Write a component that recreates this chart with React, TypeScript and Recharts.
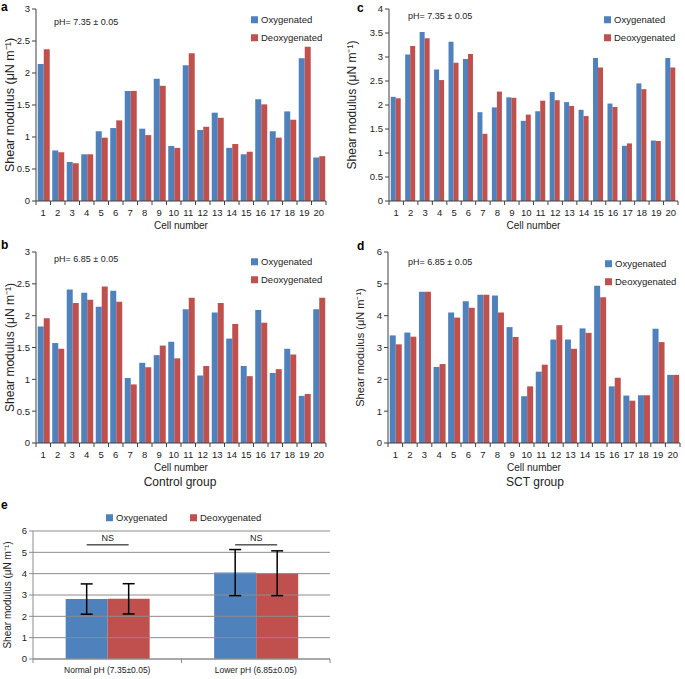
import React from 'react';
import { BarChart, Bar, XAxis, YAxis, ReferenceLine, ErrorBar, LabelList } from 'recharts';

const OXY = '#4F81BD';
const DEOXY = '#C0504D';
const FONT = '"Liberation Sans", Arial, sans-serif';
const TXT = '#222';
const AXIS = '#404040';
const GRID = '#8c8c8c';
const Y_LABEL = 'Shear modulus (μN m⁻¹)';

const cellNumbers = ['1', '2', '3', '4', '5', '6', '7', '8', '9', '10', '11', '12', '13', '14', '15', '16', '17', '18', '19', '20'];

// a - control group, pH 7.35
const controlNormalOxy = [2.14, 0.79, 0.61, 0.73, 1.09, 1.14, 1.72, 1.13, 1.91, 0.86, 2.12, 1.11, 1.38, 0.83, 0.73, 1.59, 1.09, 1.4, 2.23, 0.68];
const controlNormalDeoxy = [2.37, 0.76, 0.59, 0.73, 0.99, 1.26, 1.72, 1.03, 1.8, 0.83, 2.31, 1.16, 1.3, 0.89, 0.77, 1.51, 0.99, 1.27, 2.41, 0.7];
// b - control group, pH 6.85
const controlLowOxy = [1.83, 1.57, 2.41, 2.36, 2.14, 2.39, 1.02, 1.26, 1.38, 1.59, 2.1, 1.06, 2.05, 1.64, 1.21, 2.09, 1.1, 1.48, 0.74, 2.1];
const controlLowDeoxy = [1.96, 1.48, 2.2, 2.25, 2.46, 2.22, 0.92, 1.19, 1.53, 1.33, 2.28, 1.21, 2.2, 1.87, 1.05, 1.89, 1.16, 1.39, 0.77, 2.28];
// c - SCT group, pH 7.35
const sctNormalOxy = [2.17, 3.05, 3.52, 2.74, 3.32, 2.96, 1.85, 1.95, 2.16, 1.67, 1.87, 2.27, 2.06, 1.9, 2.98, 2.03, 1.15, 2.45, 1.26, 2.98];
const sctNormalDeoxy = [2.14, 3.23, 3.39, 2.52, 2.88, 3.06, 1.4, 2.28, 2.15, 1.8, 2.09, 2.1, 1.98, 1.77, 2.78, 1.96, 1.2, 2.33, 1.25, 2.78];
// d - SCT group, pH 6.85
const sctLowOxy = [3.38, 3.47, 4.75, 2.39, 4.1, 4.45, 4.66, 4.63, 3.64, 1.47, 2.24, 3.25, 3.25, 3.6, 4.94, 1.78, 1.49, 1.5, 3.59, 2.14];
const sctLowDeoxy = [3.1, 3.34, 4.75, 2.48, 3.94, 4.25, 4.66, 4.1, 3.33, 1.78, 2.46, 3.7, 2.96, 3.46, 4.58, 2.05, 1.33, 1.5, 3.17, 2.14];

// e - means
const phGroups = ['Normal pH (7.35±0.05)', 'Lower pH (6.85±0.05)'];
const meanOxy = [2.81, 4.05];
const meanDeoxy = [2.82, 4.02];
const sdOxy = [0.71, 1.08];
const sdDeoxy = [0.71, 1.05];
const nsLevel = [5.35, 5.35];

const ticks3 = [0, 0.5, 1, 1.5, 2, 2.5, 3];
const ticks4 = [0, 0.5, 1, 1.5, 2, 2.5, 3, 3.5, 4];
const ticks6 = [0, 1, 2, 3, 4, 5, 6];

// category tick: marks sit on category edges like excel
function EdgeTick(props: any) {
  const { x, y, payload, width, visibleTicksCount, index, gap, color, size, count } = props;
  const n = count || visibleTicksCount || 1;
  const half = payload && payload.offset ? payload.offset : width / n / 2;
  const axisY = y - gap;
  return (
    <g>
      <line x1={x - half} x2={x - half} y1={axisY} y2={axisY + 4} stroke={color} />
      {index === n - 1 && <line x1={x + half} x2={x + half} y1={axisY} y2={axisY + 4} stroke={color} />}
      <text x={x} y={y} dy="0.71em" textAnchor="middle" fontSize={size} fill={TXT}>{payload.value}</text>
    </g>
  );
}

function Note({ x, y, children, size = 9, center = false, bold = false }: any) {
  return (
    <div style={{
      position: 'absolute', left: x, top: y, fontSize: size, lineHeight: 1, whiteSpace: 'nowrap',
      fontWeight: bold ? 'bold' : 'normal', color: bold ? '#000' : TXT,
      transform: center ? 'translate(-50%, -50%)' : 'translateY(-50%)',
    }}>{children}</div>
  );
}

function Swatch({ x, y, color, label }: any) {
  return (
    <div style={{ position: 'absolute', left: x, top: y, transform: 'translateY(-50%)', display: 'flex', alignItems: 'center', fontSize: 9.5, color: TXT, whiteSpace: 'nowrap', lineHeight: 1 }}>
      <span style={{ width: 7, height: 7, background: color, marginRight: 3, display: 'inline-block' }} />
      {label}
    </div>
  );
}

function CellPanel(p: any) {
  const data = cellNumbers.map((c, i) => ({ cell: c, oxy: p.oxy[i], deoxy: p.deoxy[i] }));
  return (
    <div style={{ position: 'absolute', left: p.left, top: p.top }}>
      <BarChart width={p.width} height={p.height} data={data} barCategoryGap="12%" barGap={0}
        margin={{ top: p.mTop, right: p.mRight, left: 0, bottom: 0 }}>
        <XAxis dataKey="cell" interval={0} height={29} stroke={AXIS} tickLine={false} tickSize={0} tickMargin={8}
          tick={<EdgeTick gap={8} color={AXIS} size={9.5} count={cellNumbers.length} />}
          label={{ value: 'Cell number', position: 'insideBottom', offset: 1, fontSize: 10, fill: TXT }} />
        <YAxis domain={[0, p.yMax]} ticks={p.yTicks} width={p.axisW} stroke={AXIS} tickSize={4} tickMargin={2}
          tick={{ fontSize: 9.5, fill: TXT }}
          label={{ value: Y_LABEL, angle: -90, position: 'insideLeft', offset: p.labelX, fontSize: p.labelSize, fill: TXT, style: { textAnchor: 'middle' } }} />
        <Bar dataKey="oxy" fill={OXY} isAnimationActive={false} />
        <Bar dataKey="deoxy" fill={DEOXY} isAnimationActive={false} />
      </BarChart>
    </div>
  );
}

function NsMark(props: any) {
  const vb = props.viewBox || props;
  const i = props.index;
  if (vb == null || i == null) return null;
  const perUnit = vb.height / meanDeoxy[i];
  const bottom = vb.y + vb.height;
  const ly = bottom - nsLevel[i] * perUnit;
  return (
    <g>
      <line x1={vb.x - vb.width / 2} x2={vb.x + vb.width / 2} y1={ly} y2={ly} stroke="#000" />
      <text x={vb.x} y={ly - 4} textAnchor="middle" fontSize={9} fill={TXT}>NS</text>
    </g>
  );
}

function MeanPanel() {
  const data = phGroups.map((g, i) => ({ group: g, oxy: meanOxy[i], deoxy: meanDeoxy[i], oxyErr: sdOxy[i], deoxyErr: sdDeoxy[i], ns: nsLevel[i] }));
  return (
    <div style={{ position: 'absolute', left: 0, top: 520 }}>
      <BarChart width={340} height={159} data={data} barCategoryGap="22%" barGap={0}
        margin={{ top: 11, right: 10, left: 0, bottom: 0 }}>
        {ticks6.map((t) => (
          <ReferenceLine key={t} y={t} stroke={GRID} />
        ))}
        <XAxis dataKey="group" interval={0} height={20} stroke={GRID} tickLine={false} tickSize={0} tickMargin={8}
          tick={<EdgeTick gap={8} color={GRID} size={8.5} count={phGroups.length} />} />
        <YAxis domain={[0, 6]} ticks={ticks6} width={33} stroke={GRID} tickSize={4} tickMargin={2}
          tick={{ fontSize: 9.5, fill: TXT }}
          label={{ value: Y_LABEL, angle: -90, position: 'insideLeft', offset: 7, fontSize: 10, fill: TXT, style: { textAnchor: 'middle' } }} />
        <Bar dataKey="oxy" fill={OXY} isAnimationActive={false}>
          <ErrorBar dataKey="oxyErr" width={6} stroke="#000" />
        </Bar>
        <Bar dataKey="deoxy" fill={DEOXY} isAnimationActive={false}>
          <ErrorBar dataKey="deoxyErr" width={6} stroke="#000" />
          <LabelList dataKey="ns" content={NsMark} />
        </Bar>
      </BarChart>
    </div>
  );
}

export default function App() {
  return (
    <div style={{ position: 'absolute', left: 0, top: 0, width: 685, height: 679, background: '#fff', fontFamily: FONT, overflow: 'hidden' }}>
      <CellPanel left={0} top={0} width={340} height={230} mTop={9} mRight={14} axisW={36} yMax={3} yTicks={ticks3}
        oxy={controlNormalOxy} deoxy={controlNormalDeoxy} labelX={10} labelSize={12.5} />
      <CellPanel left={340} top={0} width={345} height={230} mTop={9} mRight={7} axisW={49} yMax={4} yTicks={ticks4}
        oxy={sctNormalOxy} deoxy={sctNormalDeoxy} labelX={12} labelSize={12} />
      <CellPanel left={0} top={240} width={340} height={232} mTop={12} mRight={14} axisW={36} yMax={3} yTicks={ticks3}
        oxy={controlLowOxy} deoxy={controlLowDeoxy} labelX={10} labelSize={12} />
      <CellPanel left={340} top={240} width={345} height={232} mTop={12} mRight={5} axisW={48} yMax={6} yTicks={ticks6}
        oxy={sctLowOxy} deoxy={sctLowDeoxy} labelX={20} labelSize={11} />
      <MeanPanel />

      <Note x={1} y={7} size={12} bold>a</Note>
      <Note x={357} y={8} size={12} bold>c</Note>
      <Note x={1} y={245} size={12} bold>b</Note>
      <Note x={357} y={246} size={12} bold>d</Note>
      <Note x={1} y={505} size={12} bold>e</Note>

      <Note x={54} y={22}>pH= 7.35 ± 0.05</Note>
      <Note x={408} y={16}>pH= 7.35 ± 0.05</Note>
      <Note x={54} y={259}>pH= 6.85 ± 0.05</Note>
      <Note x={408} y={262}>pH= 6.85 ± 0.05</Note>

      <Swatch x={251} y={20} color={OXY} label="Oxygenated" />
      <Swatch x={251} y={38} color={DEOXY} label="Deoxygenated" />
      <Swatch x={604} y={20} color={OXY} label="Oxygenated" />
      <Swatch x={604} y={38} color={DEOXY} label="Deoxygenated" />
      <Swatch x={251} y={262} color={OXY} label="Oxygenated" />
      <Swatch x={251} y={280} color={DEOXY} label="Deoxygenated" />
      <Swatch x={605} y={264} color={OXY} label="Oxygenated" />
      <Swatch x={605} y={282} color={DEOXY} label="Deoxygenated" />
      <Swatch x={106} y={518} color={OXY} label="Oxygenated" />
      <Swatch x={190} y={518} color={DEOXY} label="Deoxygenated" />

      <Note x={180} y={482} size={12} center>Control group</Note>
      <Note x={535} y={482} size={12} center>SCT group</Note>
    </div>
  );
}
